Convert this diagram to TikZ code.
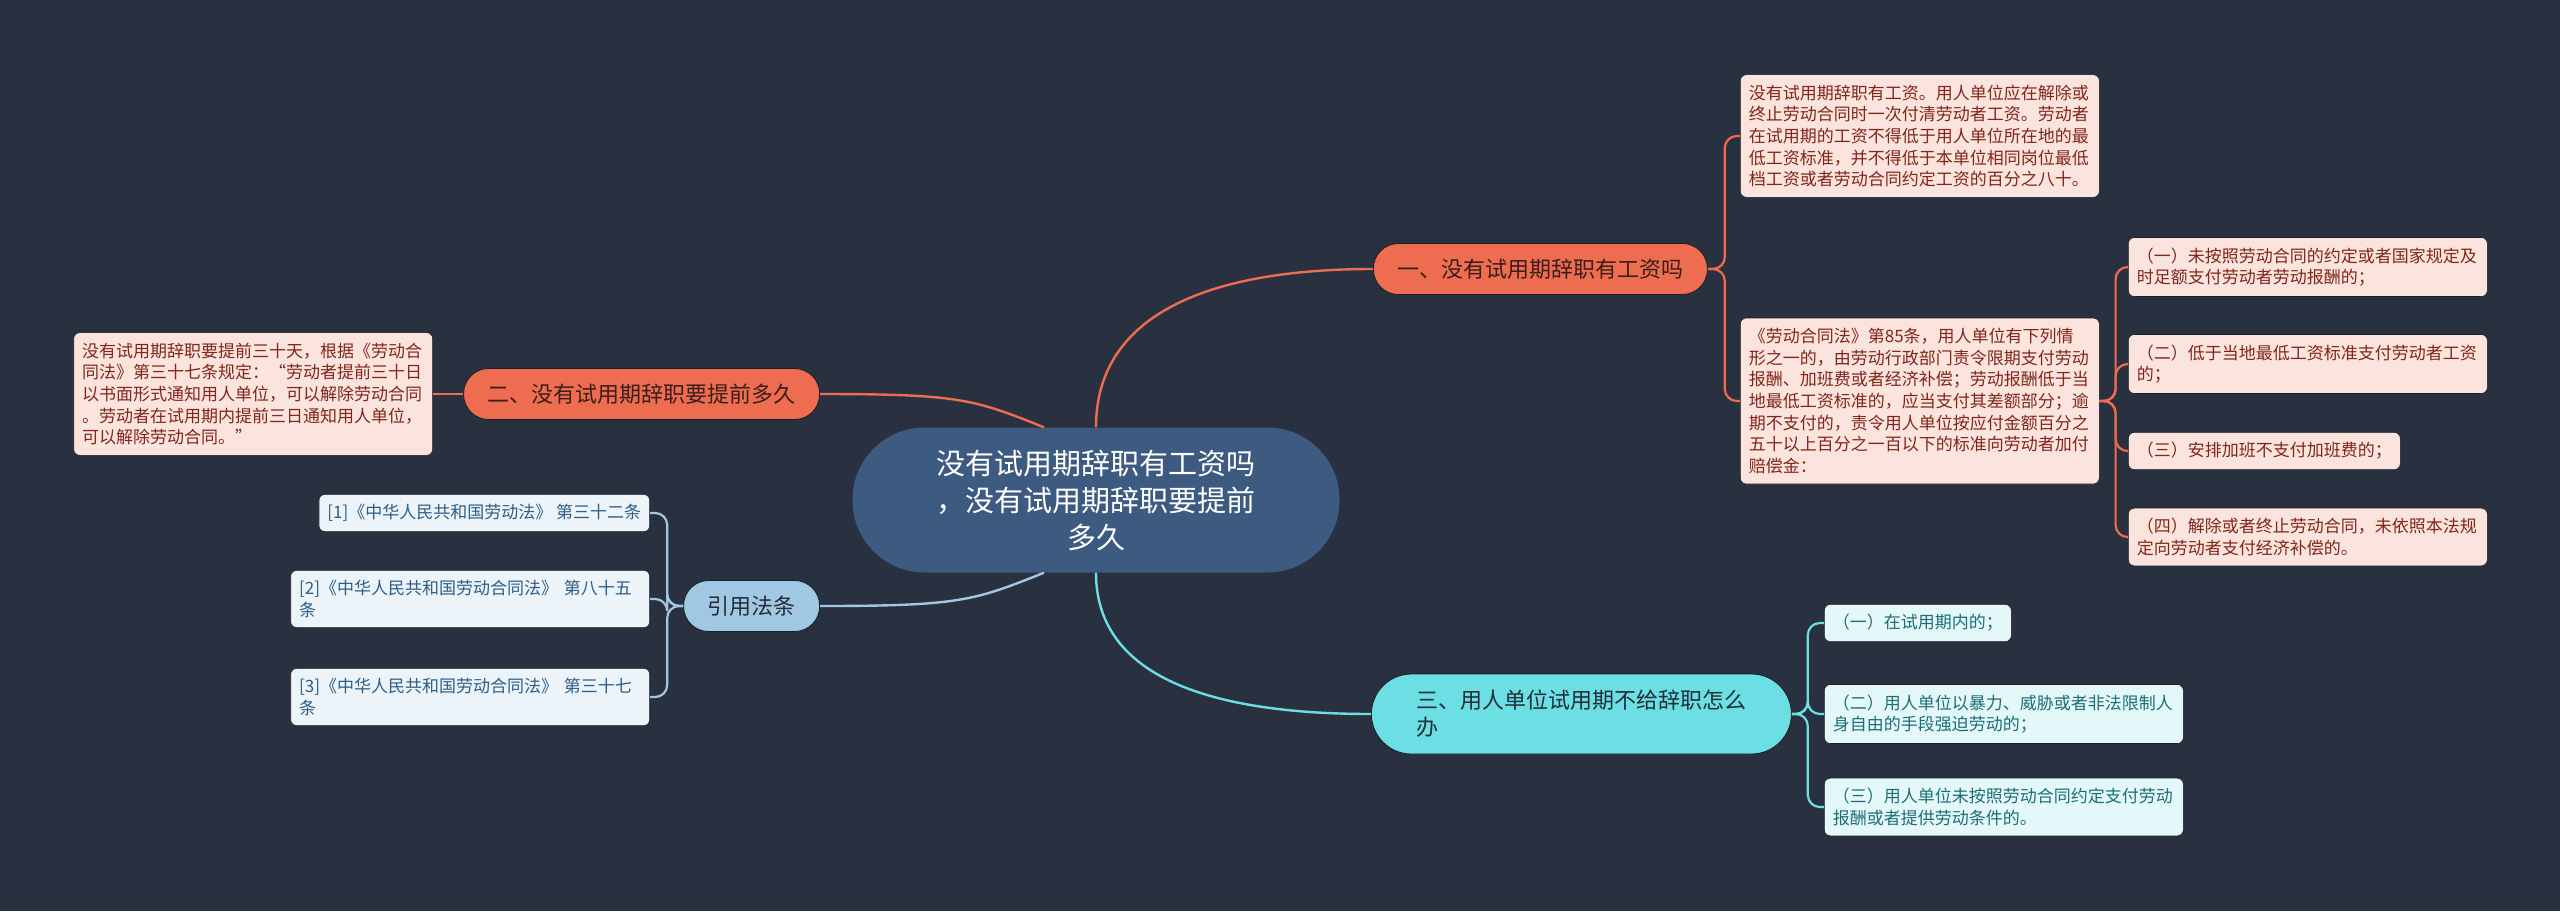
\documentclass[tikz,border=0pt]{standalone}
\usepackage{fontspec}
\newfontfamily\cjk{Noto Sans CJK SC}
\definecolor{bg}{RGB}{41,49,64}
\definecolor{hub}{RGB}{61,90,128}
\definecolor{coral}{RGB}{238,108,79}
\definecolor{coralleaf}{RGB}{252,228,222}
\definecolor{coraltext}{RGB}{128,38,26}
\definecolor{coraldark}{RGB}{58,30,26}
\definecolor{aqua}{RGB}{108,223,229}
\definecolor{aqualeaf}{RGB}{228,248,249}
\definecolor{aquatext}{RGB}{28,110,116}
\definecolor{aquadark}{RGB}{30,46,52}
\definecolor{sky}{RGB}{160,200,226}
\definecolor{skyleaf}{RGB}{236,243,249}
\definecolor{skytext}{RGB}{44,94,136}
\definecolor{skydark}{RGB}{36,46,58}
\begin{document}
\begin{tikzpicture}[
  x=1pt, y=-1pt,
  every node/.style={font=\cjk, inner sep=0pt},
  hubnode/.style={fill=hub, text=white, rounded corners=72pt, minimum width=487pt, minimum height=145pt, align=center, font=\cjk\fontsize{29}{37}\selectfont},
  branch/.style={rounded corners=25pt, minimum height=51pt, inner xsep=24pt, draw=bg!60!black, line width=0.8pt, font=\cjk\fontsize{22}{27}\selectfont},
  leaf/.style={rounded corners=6pt, inner xsep=8.5pt, inner ysep=10pt, align=left, draw=bg!60!black, line width=0.6pt, font=\cjk\fontsize{17}{21.7}\selectfont},
  wide/.style={text width=342pt},
  link/.style={line width=2.4pt},
  fork/.style={line width=2.2pt, rounded corners=12pt}
]
\fill[bg] (0,0) rectangle (2560,911);
\useasboundingbox (0,0) rectangle (2560,911);

\node[hubnode] (main) at (1096,500) {没有试用期辞职有工资吗\\，没有试用期辞职要提前\\多久};

\node[branch, fill=coral, text=coraldark, anchor=west] (wage) at (1373,269) {一、没有试用期辞职有工资吗};
\node[branch, fill=coral, text=coraldark, anchor=east] (notice) at (820,394) {二、没有试用期辞职要提前多久};
\node[branch, fill=sky, text=skydark, anchor=east] (cite) at (820,606) {引用法条};
\node[branch, fill=aqua, text=aquadark, anchor=west, minimum width=420pt, minimum height=80pt, rounded corners=40pt, text width=330pt, align=left] (refuse) at (1371,714) {三、用人单位试用期不给辞职怎么\\办};

\node[leaf, wide, fill=coralleaf, text=coraltext, anchor=west] (pay) at (1740,136) {没有试用期辞职有工资。用人单位应在解除或\\终止劳动合同时一次付清劳动者工资。劳动者\\在试用期的工资不得低于用人单位所在地的最\\低工资标准，并不得低于本单位相同岗位最低\\档工资或者劳动合同约定工资的百分之八十。};
\node[leaf, wide, fill=coralleaf, text=coraltext, anchor=west] (art85) at (1740,401) {《劳动合同法》第85条，用人单位有下列情\\形之一的，由劳动行政部门责令限期支付劳动\\报酬、加班费或者经济补偿；劳动报酬低于当\\地最低工资标准的，应当支付其差额部分；逾\\期不支付的，责令用人单位按应付金额百分之\\五十以上百分之一百以下的标准向劳动者加付\\赔偿金：};

\node[leaf, wide, fill=coralleaf, text=coraltext, anchor=west] (case1) at (2128,267) {（一）未按照劳动合同的约定或者国家规定及\\时足额支付劳动者劳动报酬的；};
\node[leaf, wide, fill=coralleaf, text=coraltext, anchor=west] (case2) at (2128,364) {（二）低于当地最低工资标准支付劳动者工资\\的；};
\node[leaf, fill=coralleaf, text=coraltext, anchor=west] (case3) at (2128,451) {（三）安排加班不支付加班费的；};
\node[leaf, wide, fill=coralleaf, text=coraltext, anchor=west] (case4) at (2128,537) {（四）解除或者终止劳动合同，未依照本法规\\定向劳动者支付经济补偿的。};

\node[leaf, wide, fill=coralleaf, text=coraltext, anchor=east] (art37) at (433,394) {没有试用期辞职要提前三十天，根据《劳动合\\同法》第三十七条规定：“劳动者提前三十日\\以书面形式通知用人单位，可以解除劳动合同\\。劳动者在试用期内提前三日通知用人单位，\\可以解除劳动合同。”};

\node[leaf, fill=aqualeaf, text=aquatext, anchor=west] (way1) at (1824,623) {（一）在试用期内的；};
\node[leaf, wide, fill=aqualeaf, text=aquatext, anchor=west] (way2) at (1824,714) {（二）用人单位以暴力、威胁或者非法限制人\\身自由的手段强迫劳动的；};
\node[leaf, wide, fill=aqualeaf, text=aquatext, anchor=west] (way3) at (1824,807) {（三）用人单位未按照劳动合同约定支付劳动\\报酬或者提供劳动条件的。};

\node[leaf, fill=skyleaf, text=skytext, anchor=east] (law1) at (650,513) {[1]《中华人民共和国劳动法》 第三十二条};
\node[leaf, wide, fill=skyleaf, text=skytext, anchor=east] (law2) at (650,599) {[2]《中华人民共和国劳动合同法》 第八十五\\条};
\node[leaf, wide, fill=skyleaf, text=skytext, anchor=east] (law3) at (650,697) {[3]《中华人民共和国劳动合同法》 第三十七\\条};

\draw[link, coral] (main.north) .. controls +(0,-110) and +(-170,0) .. (wage.west);
\draw[link, coral] ([xshift=-52pt]main.north) .. controls +(-70,-28) and +(140,0) .. (notice.east);
\draw[link, sky] ([xshift=-52pt]main.south) .. controls +(-70,28) and +(140,0) .. (cite.east);
\draw[link, aqua] (main.south) .. controls +(0,100) and +(-170,0) .. (refuse.west);

\draw[fork, coral] (wage.east) -- ++(17,0) |- (pay.west);
\draw[fork, coral] (wage.east) -- ++(17,0) |- (art85.west);
\draw[fork, coral] (art85.east) -- ++(16,0) |- (case1.west);
\draw[fork, coral] (art85.east) -- ++(16,0) |- (case2.west);
\draw[fork, coral] (art85.east) -- ++(16,0) |- (case3.west);
\draw[fork, coral] (art85.east) -- ++(16,0) |- (case4.west);
\draw[fork, coral] (notice.west) -- (art37.east);
\draw[fork, aqua] (refuse.east) -- ++(16,0) |- (way1.west);
\draw[fork, aqua] (refuse.east) -- ++(16,0) |- (way2.west);
\draw[fork, aqua] (refuse.east) -- ++(16,0) |- (way3.west);
\draw[fork, sky] (cite.west) -- ++(-16,0) |- (law1.east);
\draw[fork, sky] (cite.west) -- ++(-16,0) |- (law2.east);
\draw[fork, sky] (cite.west) -- ++(-16,0) |- (law3.east);
\end{tikzpicture}
\end{document}
